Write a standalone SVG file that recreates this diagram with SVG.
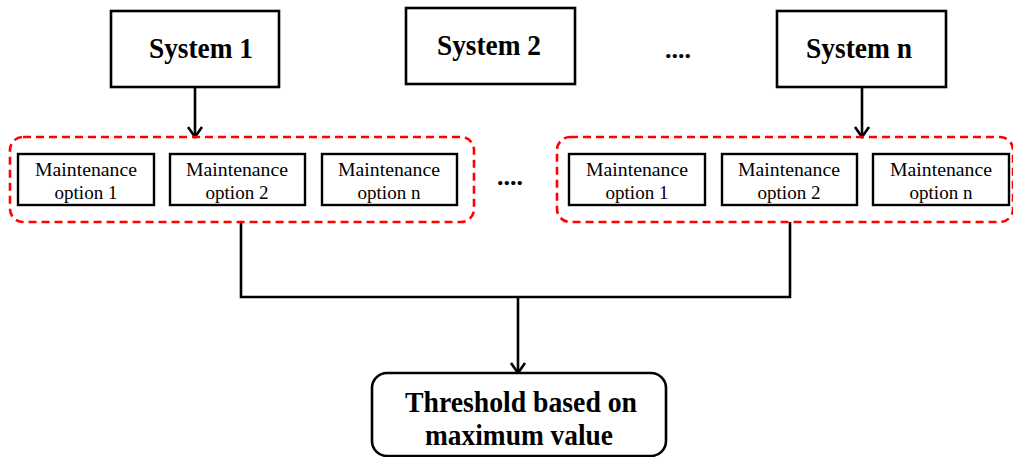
<svg xmlns="http://www.w3.org/2000/svg" width="1013" height="457" viewBox="0 0 1013 457">
  <defs>
    <marker id="arrow" viewBox="0 0 20 20" refX="18" refY="10" markerWidth="20" markerHeight="20" markerUnits="userSpaceOnUse" orient="auto">
      <polyline points="8,3 18,10 8,17" fill="none" stroke="#000" stroke-width="2.6"/>
    </marker>
  </defs>
  <style>
    .box { fill: #fff; stroke: #000; stroke-width: 2.6; }
    .opt { fill: #fff; stroke: #000; stroke-width: 2.4; }
    .group { fill: none; stroke: #ff0000; stroke-width: 2.6; stroke-dasharray: 8 5; }
    .line { fill: none; stroke: #000; stroke-width: 2.6; }
    text { font-family: "Liberation Serif", "Times New Roman", "DejaVu Serif", "Noto Serif", serif; fill: #000; text-anchor: middle; }
    .sys { font-weight: bold; font-size: 30px; }
    .lbl { font-size: 19px; }
    .dots { font-weight: bold; font-size: 26px; }
  </style>
  <rect width="1013" height="457" fill="#fff"/>

  <!-- connectors -->
  <g id="connectors">
    <line class="line" x1="195" y1="87" x2="195" y2="137" marker-end="url(#arrow)"/>
    <line class="line" x1="862" y1="87" x2="862" y2="137" marker-end="url(#arrow)"/>
    <polyline class="line" points="241,222 241,297 790,297 790,222"/>
    <line class="line" x1="518" y1="297" x2="518" y2="373" marker-end="url(#arrow)"/>
  </g>

  <!-- systems -->
  <g id="system-1">
    <rect class="box" x="111" y="11" width="168" height="76"/>
    <text class="sys" x="201" y="58" textLength="104" lengthAdjust="spacingAndGlyphs">System 1</text>
  </g>
  <g id="system-2">
    <rect class="box" x="406" y="8" width="169" height="76"/>
    <text class="sys" x="489" y="55" textLength="104" lengthAdjust="spacingAndGlyphs">System 2</text>
  </g>
  <g id="system-dots">
    <text class="dots" x="678" y="58">....</text>
  </g>
  <g id="system-n">
    <rect class="box" x="777" y="11" width="169" height="76"/>
    <text class="sys" x="859" y="58" textLength="106" lengthAdjust="spacingAndGlyphs">System n</text>
  </g>

  <!-- maintenance options of system 1 -->
  <g id="options-1">
    <rect class="group" x="10" y="137" width="464" height="85" rx="13"/>
    <g id="opt-1-1">
      <rect class="opt" x="18" y="154" width="136" height="51"/>
      <text class="lbl" x="86" y="176" textLength="102" lengthAdjust="spacingAndGlyphs">Maintenance</text>
      <text class="lbl" x="86" y="199">option 1</text>
    </g>
    <g id="opt-1-2">
      <rect class="opt" x="170" y="154" width="135" height="51"/>
      <text class="lbl" x="237" y="176" textLength="102" lengthAdjust="spacingAndGlyphs">Maintenance</text>
      <text class="lbl" x="237" y="199">option 2</text>
    </g>
    <g id="opt-1-n">
      <rect class="opt" x="322" y="154" width="135" height="51"/>
      <text class="lbl" x="389" y="176" textLength="102" lengthAdjust="spacingAndGlyphs">Maintenance</text>
      <text class="lbl" x="389" y="199">option n</text>
    </g>
  </g>

  <g id="options-dots">
    <text class="dots" x="510" y="185">....</text>
  </g>

  <!-- maintenance options of system n -->
  <g id="options-n">
    <rect class="group" x="557" y="137" width="456" height="85" rx="13"/>
    <g id="opt-n-1">
      <rect class="opt" x="569" y="154" width="136" height="51"/>
      <text class="lbl" x="637" y="176" textLength="102" lengthAdjust="spacingAndGlyphs">Maintenance</text>
      <text class="lbl" x="637" y="199">option 1</text>
    </g>
    <g id="opt-n-2">
      <rect class="opt" x="722" y="154" width="135" height="51"/>
      <text class="lbl" x="789" y="176" textLength="102" lengthAdjust="spacingAndGlyphs">Maintenance</text>
      <text class="lbl" x="789" y="199">option 2</text>
    </g>
    <g id="opt-n-n">
      <rect class="opt" x="873" y="154" width="136" height="51"/>
      <text class="lbl" x="941" y="176" textLength="102" lengthAdjust="spacingAndGlyphs">Maintenance</text>
      <text class="lbl" x="941" y="199">option n</text>
    </g>
  </g>

  <!-- result -->
  <g id="threshold">
    <rect class="box" x="372" y="373" width="294" height="83" rx="15"/>
    <text class="sys" x="521" y="412" textLength="232" lengthAdjust="spacingAndGlyphs">Threshold based on</text>
    <text class="sys" x="519" y="445" textLength="188" lengthAdjust="spacingAndGlyphs">maximum value</text>
  </g>
</svg>
